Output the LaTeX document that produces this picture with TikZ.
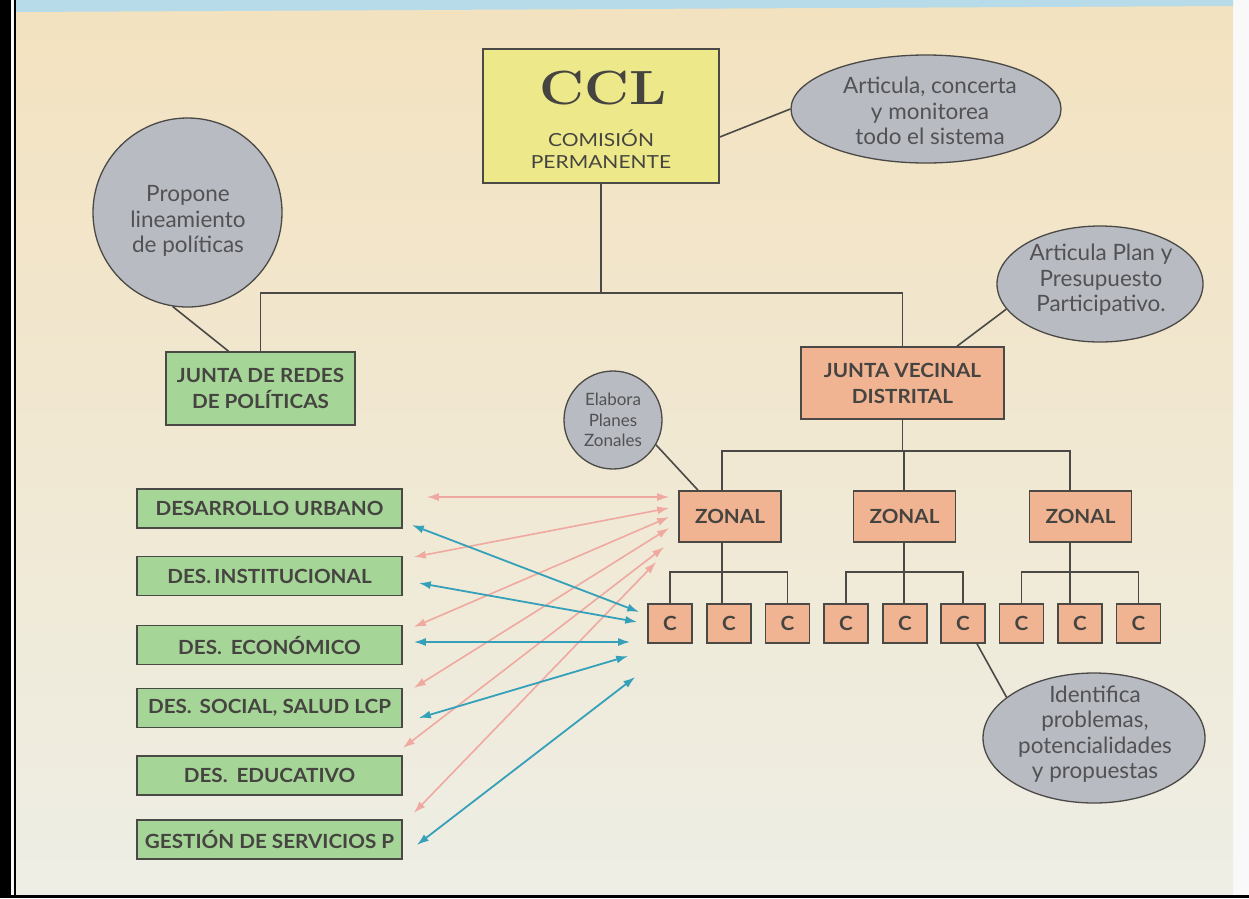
\documentclass[tikz,border=0pt]{standalone}
\usepackage{fontspec}
\usepackage{graphicx}
\usetikzlibrary{arrows.meta,calc,shapes.geometric}
\newfontfamily\labfont{Lato}[FakeStretch=1.06]
\newfontfamily\notefont{Lato}

\definecolor{paperTop}{HTML}{F3E2BF}
\definecolor{paperMid}{HTML}{F1E8D2}
\definecolor{paperBot}{HTML}{EEEEE5}
\definecolor{bandBlue}{HTML}{B7DBE9}
\definecolor{cclYellow}{HTML}{EDE98B}
\definecolor{boxGreen}{HTML}{A6D598}
\definecolor{boxSalmon}{HTML}{F0B492}
\definecolor{noteGrey}{HTML}{B9BBC3}
\definecolor{edgeGrey}{HTML}{4A4946}
\definecolor{inkGrey}{HTML}{464440}
\definecolor{noteInk}{HTML}{525153}
\definecolor{linkPink}{HTML}{EFA9A0}
\definecolor{linkTeal}{HTML}{35A0B9}

\tikzset{
  orgbox/.style={draw=edgeGrey, line width=1.6pt, inner sep=0pt, text=inkGrey,
    font=\labfont\bfseries\fontsize{19.5}{26}\selectfont, align=center},
  greenbox/.style={orgbox, fill=boxGreen, minimum width=265pt, minimum height=39pt},
  salmonbox/.style={orgbox, fill=boxSalmon},
  zonebox/.style={salmonbox, minimum width=102pt, minimum height=51pt},
  cbox/.style={salmonbox, minimum width=44pt, minimum height=39pt},
  note/.style={ellipse, draw=edgeGrey, line width=1.3pt, fill=noteGrey, inner sep=0pt},
  notetext/.style={inner sep=0pt, text=noteInk, align=center,
    font=\notefont\fontsize{22.5}{25.5}\selectfont},
  tie/.style={draw=edgeGrey, line width=1.6pt},
  pinklink/.style={draw=linkPink, line width=1.6pt,
    arrows={Latex[length=12pt,width=8pt]-Latex[length=12pt,width=8pt]}},
  teallink/.style={draw=linkTeal, line width=1.8pt,
    arrows={Latex[length=12pt,width=8pt]-Latex[length=12pt,width=8pt]}},
}

\begin{document}
\begin{tikzpicture}[x=1pt,y=-1pt]
\useasboundingbox (0,0) rectangle (1249,898);

% sheet, paper and scan border
\fill[white!95!gray] (0,0) rectangle (1249,898);
\shade[top color=paperTop, middle color=paperMid, bottom color=paperBot]
  (15.5,0) rectangle (1233,896);
\fill[bandBlue] (15.5,0) -- (1233,0) -- (1233,6) -- (15.5,12) -- cycle;
\fill[black] (0,0) rectangle (11,898);
\fill[black] (13.5,0) rectangle (15.5,898);
\fill[black] (0,895) rectangle (1249,898);

% top of the hierarchy
\node[orgbox, fill=cclYellow, minimum width=236pt, minimum height=134pt] (ccl) at (601,116) {};
\node[inner sep=0pt, text=inkGrey, font=\bfseries\fontsize{48}{48}\selectfont] (ccl-t) at (603,88)
  {\scalebox{1.15}[1]{CCL}};
\node[inner sep=0pt, text=inkGrey, align=center, font=\labfont\fontsize{18}{22}\selectfont]
  (ccl-s) at (601,149) {\scalebox{1.1}[1]{COMISIÓN}\\\scalebox{1.1}[1]{PERMANENTE}};

\node[orgbox, fill=boxGreen, minimum width=189pt, minimum height=73pt] (jrp) at (260.5,388.5)
  {JUNTA DE REDES\\DE POLÍTICAS};
\node[salmonbox, minimum width=203pt, minimum height=72pt] (jvd) at (902.5,383)
  {JUNTA VECINAL\\DISTRITAL};

% zonal level
\node[zonebox] (z1) at (730,516.5) {ZONAL};
\node[zonebox] (z2) at (904.5,516.5) {ZONAL};
\node[zonebox] (z3) at (1080.5,516.5) {ZONAL};

% committees
\foreach \i/\x in {1/670,2/729,3/787.5,4/846,5/905,6/963,7/1021.5,8/1080,9/1138.5}
  \node[cbox] (c\i) at (\x,623.5) {C};

% policy networks
\node[greenbox] (g1) at (269.5,508.5) {DESARROLLO URBANO};
\node[greenbox] (g2) at (269.5,576) {DES.\,INSTITUCIONAL};
\node[greenbox] (g3) at (269.5,645) {DES.\hspace{0.45em}ECONÓMICO};
\node[greenbox] (g4) at (269.5,708) {DES.\hspace{0.4em}SOCIAL, SALUD LCP};
\node[greenbox] (g5) at (269.5,775.5) {DES.\hspace{0.45em}EDUCATIVO};
\node[greenbox] (g6) at (269.5,839.5) {GESTIÓN DE SERVICIOS P};

% explanatory bubbles
\node[note, minimum width=270pt, minimum height=108pt] (art1) at (926,109) {};
\node[notetext] (art1-t) at (930,111) {Articula, concerta\\y monitorea\\todo el sistema};
\node[note, minimum width=189pt, minimum height=189pt] (prop) at (187.5,212.5) {};
\node[notetext] (prop-t) at (188,221) {Propone\\lineamiento\\de políticas};
\node[note, minimum width=206pt, minimum height=116pt] (art2) at (1100,284) {};
\node[notetext] (art2-t) at (1101,280) {Articula Plan y\\Presupuesto\\Participativo.};
\node[note, minimum width=98pt, minimum height=98pt] (elab) at (613,420) {};
\node[notetext, font=\notefont\fontsize{17}{20.5}\selectfont] (elab-t) at (elab) {Elabora\\Planes\\Zonales};
\node[note, minimum width=222pt, minimum height=130pt] (ident) at (1094,738) {};
\node[notetext] (ident-t) at (1095,734) {Identifica\\problemas,\\potencialidades\\y propuestas};

% hierarchy ties
\coordinate (hub) at (603,293);
\draw[tie] (ccl.south) -- (ccl.south |- hub);
\draw[tie] (jrp.north) |- (hub) -| (jvd.north);

\coordinate (b1) at (722,451);
\coordinate (b2) at (904,451);
\coordinate (b3) at (1070,451);
\draw[tie] (jvd.south) -- (jvd.south |- b2);
\draw[tie] (b1 |- z1.north) -- (b1) -- (b3) -- (b3 |- z3.north);
\draw[tie] (b2) -- (b2 |- z2.north);

\coordinate (s1) at (722,572);
\coordinate (s2) at (904,572);
\coordinate (s3) at (1070,572);
\draw[tie] (s1 |- z1.south) -- (s1 |- c2.north);
\draw[tie] (c1.north) |- (s1) -| (c3.north);
\draw[tie] (s2 |- z2.south) -- (s2 |- c5.north);
\draw[tie] (c4.north) |- (s2) -| (c6.north);
\draw[tie] (s3 |- z3.south) -- (s3 |- c8.north);
\draw[tie] (c7.north) |- (s3) -| (c9.north);

% bubble pointers
\draw[tie] ($(ccl.east)+(0,21)$) -- (art1.west);
\draw[tie] (prop.-99) -- ($(jrp.north)+(-32,0)$);
\draw[tie] ($(jvd.north)+(54.5,0)$) -- (art2.195);
\draw[tie] (elab.-30) -- ($(z1.north)+(-32,0)$);
\draw[tie] ($(c6.south)+(14,0)$) -- (ident.155);

% links from the networks to the zonal level
\draw[pinklink] ($(g1.east)+(24,-11.5)$) -- ($(z1.west)+(-9,-19.5)$);
\draw[pinklink] ($(g2.east)+(11,-19)$) -- ($(z1.west)+(-9,-8.5)$);
\draw[pinklink] ($(g3.east)+(11,-18)$) -- ($(z1.west)+(-9,0.5)$);
\draw[pinklink] ($(g4.east)+(11,-20)$) -- ($(z1.west)+(-9,11.5)$);
\draw[pinklink] ($(g5.east)+(0,-27.5)$) -- ($(z1.west)+(-14,30.5)$);
\draw[pinklink] ($(g6.east)+(11,-26.5)$) -- ($(z1.west)+(-22,45.5)$);

% links from the networks to the committees
\draw[teallink] ($(g1.east)+(9,16.5)$) -- ($(c1.west)+(-8,-11.5)$);
\draw[teallink] ($(g2.east)+(16,7)$) -- ($(c1.west)+(-10,-1.5)$);
\draw[teallink] ($(g3.east)+(11,-3)$) -- ($(c1.west)+(-17,18.5)$);
\draw[teallink] ($(g4.east)+(16,10)$) -- ($(c1.west)+(-19,32.5)$);
\draw[teallink] ($(g6.east)+(14,5.5)$) -- ($(c1.west)+(-12,53.5)$);
\end{tikzpicture}
\end{document}
